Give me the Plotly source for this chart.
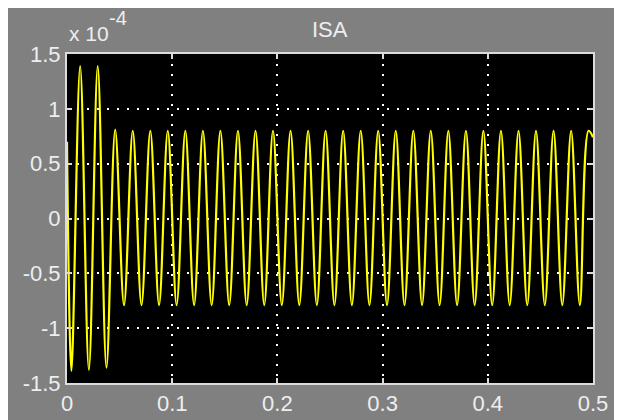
import plotly.graph_objects as go

# ---- data (values in units of 1e-4) ----
start_t = [0.0]
start_v = [0.70]

extreme_t = [0.0042, 0.0125, 0.0208, 0.0292, 0.0375, 0.0458, 0.0542, 0.0625, 0.0708, 0.0792,
             0.0875, 0.0958, 0.1042, 0.1125, 0.1208, 0.1292, 0.1375, 0.1458, 0.1542, 0.1625,
             0.1708, 0.1792, 0.1875, 0.1958, 0.2042, 0.2125, 0.2208, 0.2292, 0.2375, 0.2458,
             0.2542, 0.2625, 0.2708, 0.2792, 0.2875, 0.2958, 0.3042, 0.3125, 0.3208, 0.3292,
             0.3375, 0.3458, 0.3542, 0.3625, 0.3708, 0.3792, 0.3875, 0.3958, 0.4042, 0.4125,
             0.4208, 0.4292, 0.4375, 0.4458, 0.4542, 0.4625, 0.4708, 0.4792, 0.4875, 0.4958]
extreme_v = [-1.39, 1.39, -1.38, 1.39, -1.36, 0.81, -0.79, 0.80, -0.79, 0.80,
             -0.79, 0.80, -0.79, 0.80, -0.79, 0.80, -0.79, 0.80, -0.79, 0.80,
             -0.79, 0.80, -0.79, 0.80, -0.79, 0.80, -0.79, 0.80, -0.79, 0.80,
             -0.79, 0.80, -0.79, 0.80, -0.79, 0.80, -0.79, 0.80, -0.79, 0.80,
             -0.79, 0.80, -0.79, 0.80, -0.79, 0.80, -0.79, 0.80, -0.79, 0.80,
             -0.79, 0.80, -0.79, 0.80, -0.79, 0.80, -0.79, 0.80, -0.79, 0.80]
end_t = [0.5]
end_v = [0.74]

x_ticks = [0, 0.1, 0.2, 0.3, 0.4, 0.5]
x_tick_text = ["0", "0.1", "0.2", "0.3", "0.4", "0.5"]
y_ticks = [-1.5, -1, -0.5, 0, 0.5, 1, 1.5]
y_tick_text = ["-1.5", "-1", "-0.5", "0", "0.5", "1", "1.5"]

title_text = "ISA"
exp_base = "x 10"
exp_power = "-4"

t = start_t + extreme_t + end_t
v = start_v + extreme_v + end_v

LABEL = "#eeeeee"
BORDER = "#dcdcdc"
FONT = "Liberation Sans, Arial, sans-serif"

fig = go.Figure()
fig.add_trace(go.Scatter(x=t, y=v, mode="lines",
                         line=dict(color="#ffff00", width=2.2, shape="spline", smoothing=1.0),
                         hoverinfo="skip", showlegend=False))

axis_common = dict(
    ticks="inside", ticklen=5, tickwidth=1.5, tickcolor=BORDER,
    showline=True, linecolor=BORDER, linewidth=2, mirror="ticks",
    showgrid=True, gridcolor="white", gridwidth=1.5, griddash="2px,8px",
    zeroline=False, tickfont=dict(family=FONT, size=22, color=LABEL),
)

fig.update_xaxes(range=[0, 0.5], tickvals=x_ticks, ticktext=x_tick_text,
                 ticklabelstandoff=0, **axis_common)
fig.update_yaxes(range=[-1.5, 1.5], tickvals=y_ticks, ticktext=y_tick_text,
                 ticklabelstandoff=0, **axis_common)

fig.update_layout(
    width=622, height=420, autosize=False,
    margin=dict(l=59, r=37, t=46, b=39),
    paper_bgcolor="#808080", plot_bgcolor="#000000",
    annotations=[
        dict(text=title_text, xref="paper", yref="paper", x=0.5, y=1.073,
             xanchor="center", yanchor="middle", showarrow=False,
             font=dict(family=FONT, size=22, color=LABEL)),
        dict(text=exp_base, xref="paper", yref="paper", x=0.0, y=1.061,
             xanchor="left", yanchor="middle", showarrow=False,
             font=dict(family=FONT, size=21, color=LABEL)),
        dict(text=exp_power, xref="paper", yref="paper", x=0.078, y=1.108,
             xanchor="left", yanchor="middle", showarrow=False, borderpad=0,
             font=dict(family=FONT, size=20, color=LABEL)),
    ],
)

fig.write_html("out.html")
